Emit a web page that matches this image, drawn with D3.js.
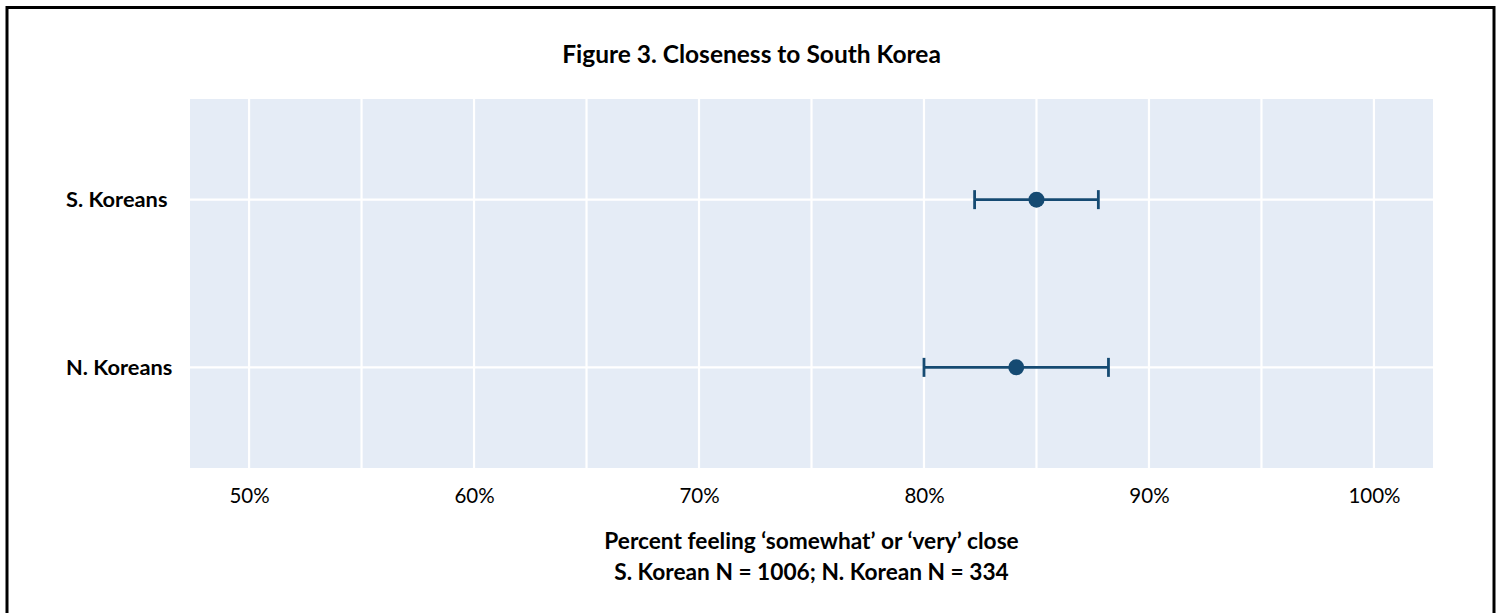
<!DOCTYPE html>
<html><head><meta charset="utf-8">
<script src="https://cdn.jsdelivr.net/npm/d3@7"></script>
<style>
html,body{margin:0;padding:0;background:#fff;}
text{font-family:Lato,"Open Sans",sans-serif;}
</style></head>
<body><svg id="c" width="1503" height="613"></svg>
<script>
const groups = ["S. Koreans", "N. Koreans"];
const estimates = [85.0, 84.1];
const lowerCI = [82.25, 80.0];
const upperCI = [87.75, 88.2];
const majorTicks = [50, 60, 70, 80, 90, 100];
const gridTicks = [50, 55, 60, 65, 70, 75, 80, 85, 90, 95, 100];
const titleText = "Figure 3. Closeness to South Korea";
const xTitle = ["Percent feeling \u2018somewhat\u2019 or \u2018very\u2019 close", "S. Korean N = 1006; N. Korean N = 334"];

const svg = d3.select("#c");
const W = 1503, H = 613;
const m = {l:190, r:1433, t:99, b:468};
const navy = "#154a72";

// frame
svg.append("rect").attr("x",7).attr("y",7.5).attr("width",1487).attr("height",H+20)
  .attr("fill","none").attr("stroke","#000").attr("stroke-width",3);

const x = d3.scaleLinear().domain([47.375,102.625]).range([m.l,m.r]);
const y = d3.scalePoint().domain(groups).range([m.t,m.b]).padding(0.6);

svg.append("rect").attr("x",m.l).attr("y",m.t).attr("width",m.r-m.l).attr("height",m.b-m.t).attr("fill","#e5ecf6");

svg.append("g").selectAll("line").data(gridTicks).join("line")
  .attr("x1",d=>x(d)).attr("x2",d=>x(d)).attr("y1",m.t).attr("y2",m.b)
  .attr("stroke","#fff").attr("stroke-width",2.2);
svg.append("g").selectAll("line").data(groups).join("line")
  .attr("x1",m.l).attr("x2",m.r).attr("y1",d=>y(d)).attr("y2",d=>y(d))
  .attr("stroke","#fff").attr("stroke-width",2.2);

// x axis ticks
const xa = d3.axisBottom(x).tickValues(majorTicks).tickFormat(d=>d+"%").tickSize(0);
const gx = svg.append("g").attr("transform",`translate(0,${m.b})`).call(xa);
gx.select(".domain").remove();
gx.selectAll("text").attr("y",35).attr("dy",0).attr("font-size",20.5).attr("fill","#000").style("font-family","Lato, sans-serif");

// y labels (left aligned)
svg.append("g").selectAll("text").data(groups).join("text")
  .attr("x",66).attr("y",d=>y(d)).attr("dy","0.36em")
  .attr("font-size",21.8).attr("font-weight","bold").attr("fill","#000").text(d=>d);

// error bars
const data = groups.map((g,i)=>({g, est:estimates[i], lo:lowerCI[i], hi:upperCI[i]}));
const eb = svg.append("g");
eb.selectAll(".h").data(data).join("line")
  .attr("x1",d=>x(d.lo)).attr("x2",d=>x(d.hi)).attr("y1",d=>y(d.g)).attr("y2",d=>y(d.g))
  .attr("stroke",navy).attr("stroke-width",2.8);
eb.selectAll(".cl").data(data).join("line")
  .attr("x1",d=>x(d.lo)).attr("x2",d=>x(d.lo)).attr("y1",d=>y(d.g)-9.5).attr("y2",d=>y(d.g)+9.5)
  .attr("stroke",navy).attr("stroke-width",2.8);
eb.selectAll(".ch").data(data).join("line")
  .attr("x1",d=>x(d.hi)).attr("x2",d=>x(d.hi)).attr("y1",d=>y(d.g)-9.5).attr("y2",d=>y(d.g)+9.5)
  .attr("stroke",navy).attr("stroke-width",2.8);
eb.selectAll("circle").data(data).join("circle")
  .attr("cx",d=>x(d.est)).attr("cy",d=>y(d.g)).attr("r",8).attr("fill",navy);

// title
svg.append("text").attr("x",W/2).attr("y",63).attr("text-anchor","middle")
  .attr("font-size",24.5).attr("font-weight","bold").attr("fill","#000").text(titleText);

// x title
svg.append("g").selectAll("text").data(xTitle).join("text")
  .attr("x",(m.l+m.r)/2).attr("y",(d,i)=>549+i*31).attr("text-anchor","middle")
  .attr("font-size",22.7).attr("font-weight","bold").attr("fill","#000").text(d=>d);
</script></body></html>
